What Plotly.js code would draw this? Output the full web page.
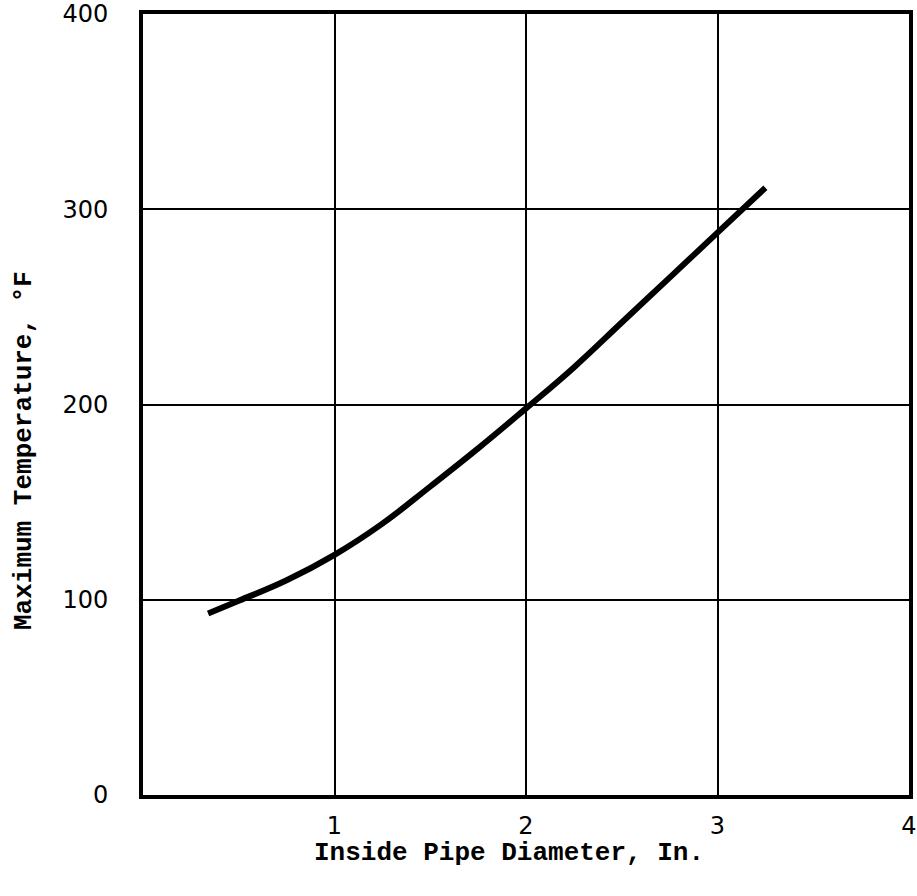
<!DOCTYPE html>
<html>
<head>
<meta charset="utf-8">
<script src="https://cdn.plot.ly/plotly-3.0.1.min.js"></script>
<style>html,body{margin:0;padding:0;background:#fff;}#chart{width:917px;height:896px;}</style>
</head>
<body>
<div id="chart"></div>
<script>
const diameter = [0.34, 0.5, 0.75, 1.0, 1.25, 1.5, 1.75, 2.0, 2.25, 2.5, 2.75, 3.0, 3.25];
const maxTemp  = [93, 99.5, 110, 123, 139, 158, 177.5, 198, 219, 242, 265, 288, 311];
const xTickVals = [1, 2, 3, 4];
const xTickText = ["1", "2", "3", "4"];
const yTickVals = [0, 100, 200, 300, 400];
const yTickText = ["0", "100", "200", "300", "400"];
const xTitle = "Inside Pipe Diameter, In.";
const yTitle = "Maximum Temperature, °F";

const tickFont = {family: "DejaVu Sans, sans-serif", size: 24, color: "#000", stretch: "condensed"};
const titleFont = {family: "Liberation Mono, Courier New, monospace", size: 26, color: "#000", weight: "bold"};

const trace = {
  x: diameter, y: maxTemp, type: "scatter", mode: "lines",
  line: {color: "#000", width: 6, shape: "spline", smoothing: 1.2},
  hoverinfo: "skip"
};

const layout = {
  width: 917, height: 896,
  margin: {l: 143, r: 8, t: 14, b: 101},
  paper_bgcolor: "#fff", plot_bgcolor: "#fff",
  showlegend: false,
  xaxis: {
    range: [0, 4], tickvals: xTickVals, ticktext: xTickText,
    showgrid: true, gridcolor: "#000", gridwidth: 2,
    showline: true, linecolor: "#000", linewidth: 4, mirror: true,
    zeroline: false, ticks: "", ticklabelstandoff: 6, ticklabeloverflow: "allow",
    tickfont: tickFont
  },
  yaxis: {
    range: [0, 400], tickvals: yTickVals, ticktext: yTickText,
    showgrid: true, gridcolor: "#000", gridwidth: 2,
    showline: true, linecolor: "#000", linewidth: 4, mirror: true,
    zeroline: false, ticks: "", ticklabelstandoff: 26, ticklabeloverflow: "allow",
    tickfont: tickFont
  },
  annotations: [
    {text: xTitle, xref: "paper", yref: "paper", x: (509-143)/766, y: -(853-795)/781,
     xanchor: "center", yanchor: "middle", showarrow: false, font: titleFont},
    {text: yTitle, xref: "paper", yref: "paper", x: -(143-24)/766, y: (795-451)/781,
     xanchor: "center", yanchor: "middle", textangle: -90, showarrow: false, font: titleFont}
  ]
};

Plotly.newPlot("chart", [trace], layout, {displayModeBar: false, staticPlot: true});
</script>
</body>
</html>
